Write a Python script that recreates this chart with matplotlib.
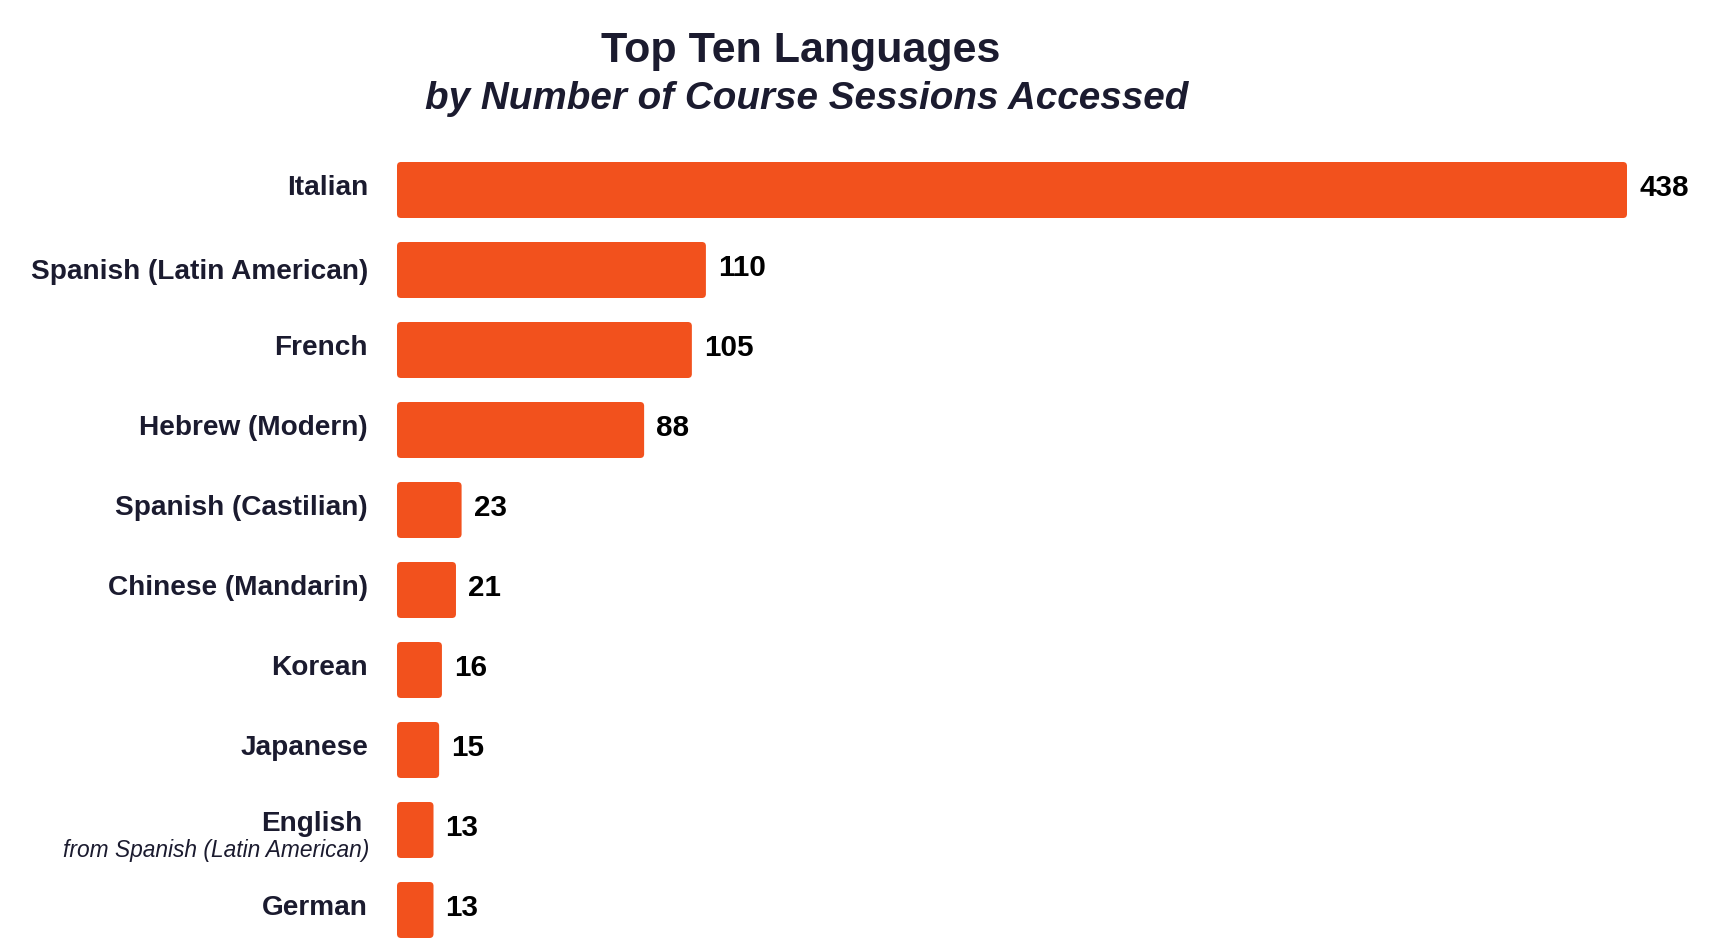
import matplotlib
matplotlib.use("Agg")
from matplotlib import pyplot as plt
from matplotlib.patches import FancyBboxPatch

languages = ["Italian", "Spanish (Latin American)", "French", "Hebrew (Modern)",
             "Spanish (Castilian)", "Chinese (Mandarin)", "Korean", "Japanese",
             "English", "German"]
notes = ["", "", "", "", "", "", "", "", "from Spanish (Latin American)", ""]
sessions = [438, 110, 105, 88, 23, 21, 16, 15, 13, 13]

title = "Top Ten Languages"
subtitle = "by Number of Course Sessions Accessed"

bar_color = "#F2511D"
text_color = "#1B1B2F"
W, H = 1717, 951

plt.rcParams["font.family"] = ["Liberation Sans", "DejaVu Sans"]

fig = plt.figure(figsize=(W / 100, H / 100), dpi=100)
ax = fig.add_axes([397 / W, 1 / H, 1230 / W, 800 / H])

ypos = list(range(len(languages)))
bars = ax.barh(ypos, sessions, height=0.7, color=bar_color)
ax.set_xlim(0, max(sessions))
ax.set_ylim(len(languages) - 0.5, -0.5)
ax.axis("off")

# swap the plain bars for rounded ones (4 px corners)
px_x = ax.bbox.width / max(sessions)
px_y = ax.bbox.height / len(languages)
r = 4
for b in bars:
    b.set_visible(False)
    ax.add_patch(FancyBboxPatch((b.get_x(), b.get_y()), b.get_width(), b.get_height(),
                                boxstyle="round,pad=0,rounding_size=%f" % (r / px_x),
                                mutation_aspect=px_x / px_y,
                                facecolor=bar_color, edgecolor="none"))

for i, (name, note, val) in enumerate(zip(languages, notes, sessions)):
    if note:
        ax.annotate(name, xy=(0, i), xytext=(-35, -1), textcoords="offset pixels",
                    ha="right", va="baseline", fontsize=20.2, fontweight="bold",
                    color=text_color, annotation_clip=False)
        ax.annotate(note, xy=(0, i), xytext=(-28, -27), textcoords="offset pixels",
                    ha="right", va="baseline", fontsize=16.4, fontstyle="italic",
                    color=text_color, annotation_clip=False)
    else:
        # the long Spanish label sits a little lower in the original
        dy = -9 if name.startswith("Spanish (L") else -5
        ax.annotate(name, xy=(0, i), xytext=(-29, dy), textcoords="offset pixels",
                    ha="right", va="baseline", fontsize=20.2, fontweight="bold",
                    color=text_color, annotation_clip=False)
    ax.annotate(str(val), xy=(val, i), xytext=(12, -6), textcoords="offset pixels",
                ha="left", va="baseline", fontsize=21.3, fontweight="bold",
                color="black", annotation_clip=False)

fig.text(801 / W, 1 - 61.7 / H, title, ha="center", va="baseline",
         fontsize=31, fontweight="bold", color=text_color)
fig.text(807 / W, 1 - 109 / H, subtitle, ha="center", va="baseline",
         fontsize=27.8, fontweight="bold", fontstyle="italic", color=text_color)

fig.savefig("out.png", dpi=100, facecolor="white")
